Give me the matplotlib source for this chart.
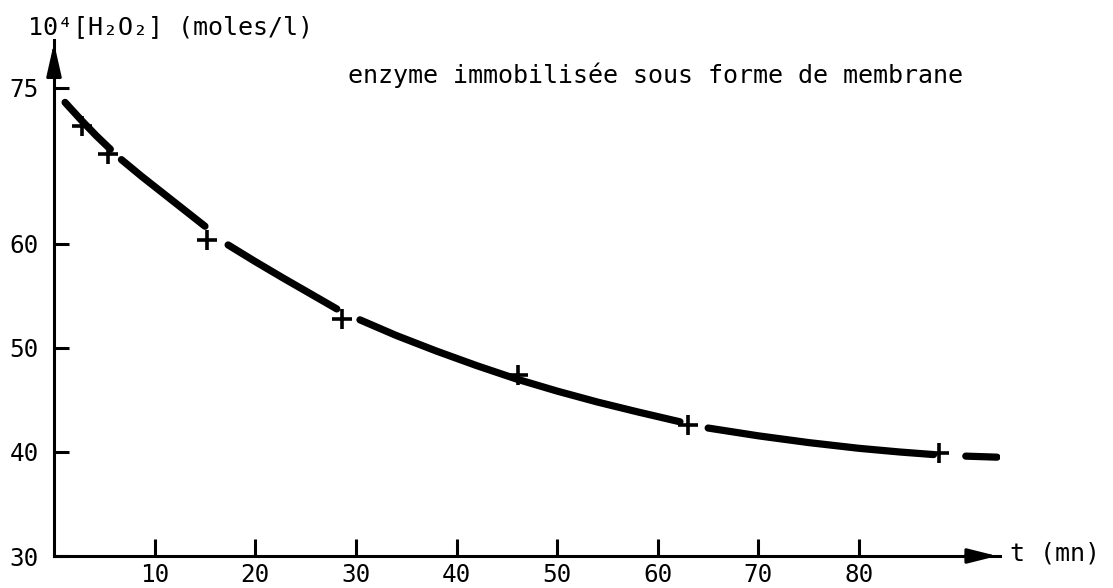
import numpy as np
import matplotlib
matplotlib.use("Agg")
import matplotlib.pyplot as plt

plt.rcParams['font.family'] = ['DejaVu Sans Mono', 'DejaVu Sans']

# measured points (t in min, 10^4 [H2O2] in mol/l)
t_points = [2.75, 5.4, 15.2, 28.6, 46.1, 63.0, 87.9]
c_points = [71.3, 68.6, 60.4, 52.8, 47.4, 42.6, 39.9]

# hand-drawn fitted curve (nan = break between dashes)
curve_t = [1.1, 2.8, 4.2, 5.6, np.nan,
           6.7, 8.7, 10.8, 12.9, 15.0, np.nan,
           17.3, 20.0, 22.8, 25.5, 28.1, np.nan,
           30.4, 34.0, 38.0, 42.0, 46.0, 50.0, 54.0, 58.0, 62.2, np.nan,
           65.0, 70.0, 75.0, 80.0, 84.0, 87.4, np.nan,
           90.6, 93.7]
curve_c = [73.6, 71.8, 70.4, 69.1, np.nan,
           68.1, 66.5, 64.9, 63.3, 61.7, np.nan,
           59.9, 58.3, 56.7, 55.2, 53.75, np.nan,
           52.7, 51.2, 49.7, 48.3, 47.0, 45.85, 44.8, 43.85, 42.9, np.nan,
           42.3, 41.55, 40.9, 40.35, 40.0, 39.75, np.nan,
           39.6, 39.5]

x_ticks = [10, 20, 30, 40, 50, 60, 70, 80]
y_ticks = [30, 40, 50, 60, 75]

W, H = 1113, 588
fig = plt.figure(figsize=(W / 100, H / 100), dpi=100)
ax = fig.add_axes([54 / W, (H - 556) / H, (1000 - 54) / W, (556 - 40) / H])
ax.set_xlim(0, 94)
ax.set_ylim(30, 79.6)

for s in ['top', 'right']:
    ax.spines[s].set_visible(False)
for s in ['left', 'bottom']:
    ax.spines[s].set_linewidth(2.2)
    ax.spines[s].set_color('black')

ax.plot(curve_t, curve_c, color='black', lw=5.2, solid_capstyle='round',
        solid_joinstyle='round')
ax.plot(t_points, c_points, linestyle='none', marker='+', color='black',
        markersize=15, markeredgewidth=2.6)

ax.set_xticks(x_ticks)
ax.set_xticklabels([str(v) for v in x_ticks])
ax.set_yticks(y_ticks)
ax.set_yticklabels([str(v) for v in y_ticks])
ax.tick_params(axis='x', direction='in', length=12, width=2.2, pad=5,
               labelsize=17.5)
ax.tick_params(axis='y', direction='in', length=11, width=2.2, pad=11,
               labelsize=17.5)

# arrow heads on axes
ax.annotate('', xy=(1.0, 0.0), xytext=(0.96, 0.0), xycoords='axes fraction',
            arrowprops=dict(arrowstyle='-|>,head_length=1.8,head_width=0.45',
                            color='black', lw=2.2, mutation_scale=10),
            annotation_clip=False)
ax.annotate('', xy=(0.0, 1.0), xytext=(0.0, 0.94), xycoords='axes fraction',
            arrowprops=dict(arrowstyle='-|>,head_length=2.0,head_width=0.45',
                            color='black', lw=2.2, mutation_scale=10),
            annotation_clip=False)

fig.text(28 / W, 1 - 27 / H, '10⁴[H₂O₂] (moles/l)', fontsize=18,
         ha='left', va='center')
fig.text(1010 / W, 1 - 553 / H, 't (mn)', fontsize=18, ha='left', va='center')
fig.text(348 / W, 1 - 75 / H, 'enzyme immobilisée sous forme de membrane',
         fontsize=18, ha='left', va='center')

fig.savefig('out.png', dpi=100)
